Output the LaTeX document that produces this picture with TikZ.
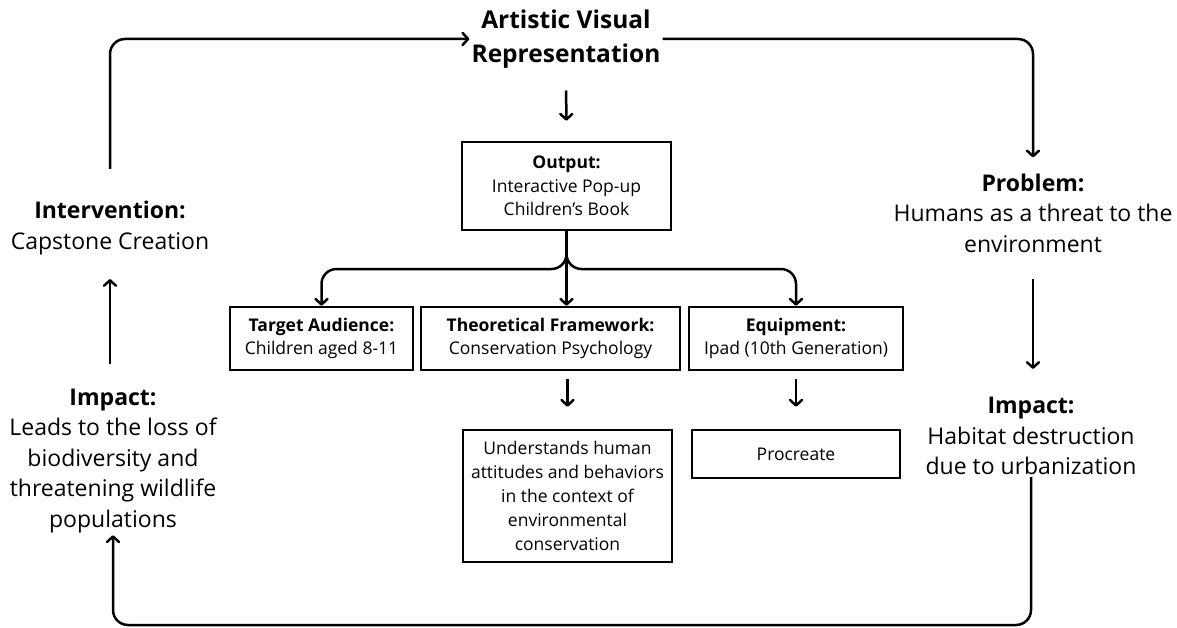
\documentclass[tikz,border=0pt]{standalone}
\usepackage{fontspec}
\setmainfont{Open Sans}
\usepackage{tikz}
\usetikzlibrary{calc,positioning,arrows.meta}

\begin{document}
\begin{tikzpicture}[x=1pt,y=-1pt,line width=2.5pt,
    >={Straight Barb[length=5.5pt,width=12pt,line join=round,line cap=round]},
    big/.style={align=center,font=\fontsize{23}{30.5}\selectfont,inner sep=1pt},
    box/.style={draw,align=center,font=\fontsize{17.5}{23.5}\selectfont,inner sep=2pt}]
    \useasboundingbox (0,0) rectangle (1177,628);

    \node[big,font=\fontsize{24.5}{34}\selectfont] at (566,39) (art) {\textbf{Artistic Visual}\\\textbf{Representation}};
    \node[big] at (1033,213) (prob) {\textbf{Problem:}\\Humans as a threat to the\\environment};
    \node[big] at (1031,436) (impr) {\textbf{Impact:}\\Habitat destruction\\due to urbanization};
    \node[big] at (113,461) (impl) {\textbf{Impact:}\\Leads to the loss of\\biodiversity and\\threatening wildlife\\populations};
    \node[big] at (110,228) (inter) {\textbf{Intervention:}\\Capstone Creation};

    \node[box,minimum width=209pt,minimum height=88pt] at (566.5,186) (out) {\textbf{Output:}\\Interactive Pop-up\\Children's Book};
    \node[box,minimum width=183pt,minimum height=63pt] at (321.5,338.5) (aud) {\textbf{Target Audience:}\\Children aged 8-11};
    \node[box,minimum width=259pt,minimum height=63pt] at (550.5,338.5) (fw) {\textbf{Theoretical Framework:}\\Conservation Psychology};
    \node[box,minimum width=214pt,minimum height=63pt] at (796,338.5) (eq) {\textbf{Equipment:}\\Ipad (10th Generation)};
    \node[box,minimum width=209pt,minimum height=132pt,font=\fontsize{17.5}{24}\selectfont] at (567.5,496) (und) {Understands human\\attitudes and behaviors\\in the context of\\environmental\\conservation};
    \node[box,minimum width=208pt,minimum height=48pt] at (796,454) (proc) {Procreate};

    \coordinate (br) at (0,269);
    \coordinate (bot) at (0,625);

    % outer loop
    \draw[->,rounded corners=15pt,shorten <=30pt] (inter.north) |- (art.west);
    \draw[->,rounded corners=15pt,shorten >=14pt] (art.east) -| (prob.north);
    \draw[->,shorten <=24pt,shorten >=26pt] (prob.south) -- (prob.south |- impr.north);
    \draw[->,rounded corners=15pt] (impr.south) |- (bot -| impl.south) -- (impl.south);
    \draw[->,shorten <=23pt,shorten >=22pt] (inter.south |- impl.north) -- (inter.south);

    % centre column
    \draw[->,shorten <=20pt,shorten >=20pt] (art.south) -- (out.north);
    \draw[->,rounded corners=15pt] (out.south) |- (aud.north |- br) -- (aud.north);
    \draw[->,rounded corners=15pt] (out.south) |- (eq.north |- br) -- (eq.north);
    \draw[->] (out.south) -- (out.south |- fw.north);
    \draw[->,shorten <=8pt,shorten >=22pt] (und.north |- fw.south) -- (und.north);
    \draw[->,shorten <=8pt,shorten >=22pt] (eq.south) -- (proc.north);
\end{tikzpicture}
\end{document}
